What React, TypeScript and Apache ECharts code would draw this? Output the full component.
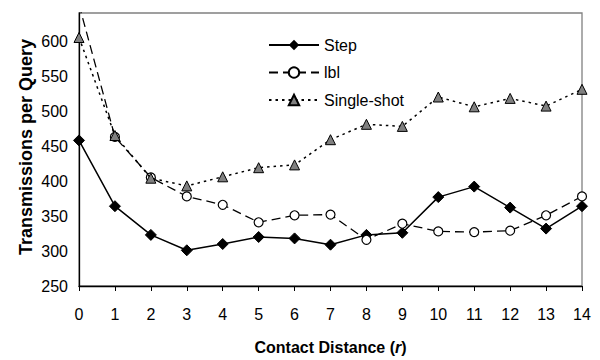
import React, { useEffect, useRef } from "react";
import * as echarts from "echarts";

const distances = [0, 1, 2, 3, 4, 5, 6, 7, 8, 9, 10, 11, 12, 13, 14];
const stepValues = [458, 364, 323, 301, 310, 320, 318, 309, 323, 326, 377, 392, 362, 332, 364];
const lblValues = [652, 463, 405, 378, 366, 341, 351, 352, 316, 339, 328, 327, 329, 351, 378];
const singleShotValues = [605, 465, 404, 393, 406, 419, 423, 459, 481, 478, 520, 506, 518, 507, 531];
const seriesNames = ["Step", "lbl", "Single-shot"];
const yTitle = "Transmissions per Query";
const xTitle = "Contact Distance ({i|r})";

const FONT = "'Liberation Sans', Arial, sans-serif";

function pairs(vals: number[]) {
  return distances.map((d, i) => [d, vals[i]]);
}

export default function App() {
  const ref = useRef<HTMLDivElement>(null);
  useEffect(() => {
    if (!ref.current) return;
    const chart = echarts.init(ref.current, undefined, { renderer: "svg" });
    chart.setOption({
      animation: false,
      backgroundColor: "#ffffff",
      textStyle: { fontFamily: FONT },
      grid: {
        left: 79,
        right: 18,
        top: 13,
        bottom: 68,
        show: true,
        borderColor: "#808080",
        borderWidth: 1.3,
        backgroundColor: "transparent",
      },
      graphic: [
        {
          type: "text",
          x: 25.5,
          y: 147,
          rotation: Math.PI / 2,
          style: {
            text: yTitle,
            fontFamily: FONT,
            fontSize: 18,
            fontWeight: "bold",
            fill: "#000",
            align: "center",
            verticalAlign: "middle",
          },
        },
      ],
      legend: {
        orient: "vertical",
        left: 263,
        top: 32,
        itemWidth: 50,
        itemHeight: 13,
        itemGap: 11.5,
        data: seriesNames,
        textStyle: { fontFamily: FONT, fontSize: 16, color: "#000" },
      },
      xAxis: {
        type: "value",
        min: 0,
        max: 14,
        interval: 1,
        name: xTitle,
        nameLocation: "middle",
        nameGap: 53,
        nameTextStyle: {
          fontFamily: FONT,
          fontSize: 16,
          fontWeight: "bold",
          color: "#000",
          rich: {
            i: { fontFamily: FONT, fontSize: 16, fontWeight: "bold", fontStyle: "italic", color: "#000" },
          },
        },
        axisLine: { lineStyle: { color: "#000", width: 1.3 } },
        axisTick: { show: true, inside: false, length: 5, lineStyle: { color: "#000", width: 1 } },
        axisLabel: { fontFamily: FONT, fontSize: 16, color: "#000", margin: 20 },
        splitLine: { show: false },
      },
      yAxis: {
        type: "value",
        min: 250,
        max: 640,
        interval: 50,
        axisLine: { show: true, lineStyle: { color: "#000", width: 1.3 } },
        axisTick: { show: false },
        axisLabel: { fontFamily: FONT, fontSize: 16, color: "#000", margin: 11, showMaxLabel: false },
        splitLine: { show: false },
      },
      series: [
        {
          name: seriesNames[0],
          type: "line",
          data: pairs(stepValues),
          symbol: "diamond",
          symbolSize: 11,
          lineStyle: { color: "#000", width: 1.5, type: "solid" },
          itemStyle: { color: "#000", borderColor: "#000" },
          z: 2,
        },
        {
          name: seriesNames[1],
          type: "line",
          data: pairs(lblValues),
          symbol: "circle",
          symbolSize: 9,
          showAllSymbol: true,
          lineStyle: { color: "#000", width: 1.3, type: [9, 5] },
          itemStyle: { color: "#fff", borderColor: "#000", borderWidth: 1.2 },
          z: 3,
        },
        {
          name: seriesNames[2],
          type: "line",
          data: pairs(singleShotValues),
          symbol: "triangle",
          symbolSize: 10,
          lineStyle: { color: "#000", width: 1.5, type: [2.5, 4] },
          itemStyle: { color: "#808080", borderColor: "#000", borderWidth: 1 },
          z: 4,
        },
      ],
    });
    return () => chart.dispose();
  }, []);
  return <div ref={ref} style={{ width: 600, height: 360, position: "absolute", left: 0, top: 0 }} />;
}
